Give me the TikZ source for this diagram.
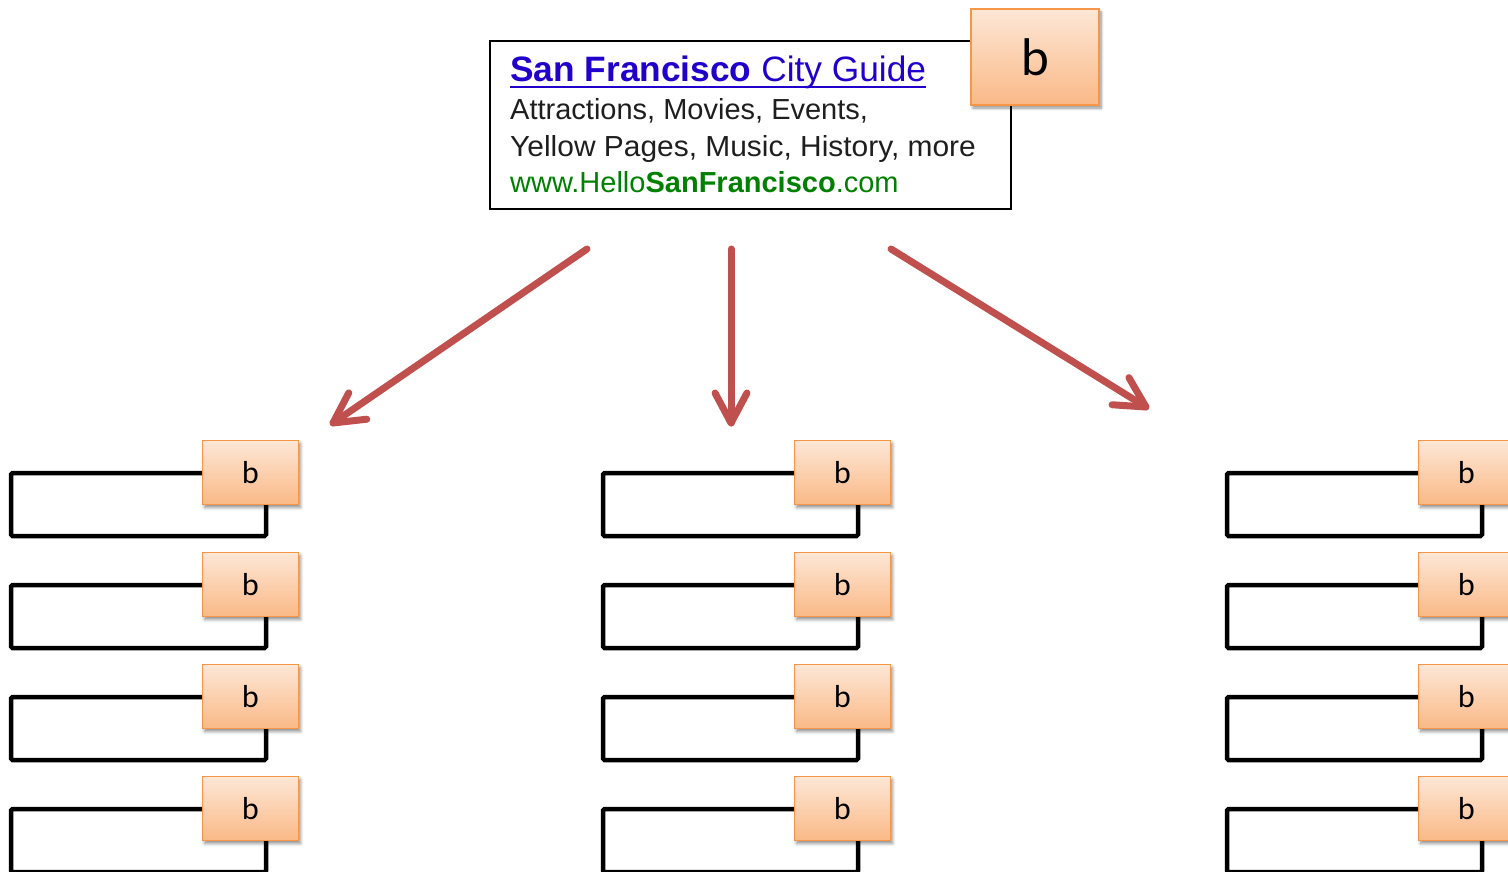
\documentclass[tikz,border=0pt]{standalone}
\usepackage{fontspec}
\setmainfont{Liberation Sans}
\newfontfamily\bfont{Lato}
\usetikzlibrary{calc,shadows.blur}
\definecolor{adblue}{RGB}{34,0,204}
\definecolor{adgreen}{RGB}{0,128,0}
\definecolor{adtext}{RGB}{30,30,30}
\definecolor{orbord}{RGB}{247,150,70}
\definecolor{ortop}{RGB}{253,231,214}
\definecolor{orbot}{RGB}{250,185,135}
\definecolor{arrred}{RGB}{192,80,77}
\tikzset{
  tagbox/.style={draw=orbord, line width=1.6pt, top color=ortop, bottom color=orbot,
    minimum width=96pt, minimum height=64pt, inner sep=0pt,
    font=\bfont\fontsize{30}{30}\selectfont,
    blur shadow={shadow xshift=2pt, shadow yshift=-3pt, shadow blur steps=6, shadow blur radius=3pt, shadow opacity=45}},
  bigtag/.style={tagbox, minimum width=128pt, minimum height=96pt, font=\bfont\fontsize{50}{50}\selectfont},
  slot/.style={draw=black, line width=4.5pt, rounded corners=1.5pt, minimum width=255pt, minimum height=63pt, inner sep=0pt},
  adline/.style={anchor=base west, inner sep=0pt, font=\fontsize{29}{29}\selectfont, text=adtext},
  flow/.style={draw=arrred, line width=7pt, line cap=round, line join=round}
}
\begin{document}
\begin{tikzpicture}[x=1pt, y=-1pt]
\useasboundingbox (0,0) rectangle (1508,872);
\clip (0,0) rectangle (1508,872);
% top ad
\node[draw=black, line width=2pt, minimum width=521pt, minimum height=168pt, inner sep=0pt] (ad) at (750.5,125) {};
\node[adline, font=\fontsize{35.3}{35}\selectfont, text=adblue] (l1) at (510,82) {\textbf{San Francisco} City Guide};
\draw[adblue, line width=1.8pt] ([yshift=-5pt]l1.base west) -- ([yshift=-5pt]l1.base east);
\node[adline] (l2) at (510,120) {Attractions, Movies, Events,};
\node[adline] (l3) at (510,157) {\scalebox{1.032}[1]{Yellow Pages, Music, History, more}};
\node[adline, text=adgreen] (l4) at (510,193) {www.Hello\textbf{SanFrancisco}.com};
\node[bigtag] (tb) at (1035,57) {b};
% arrows
\coordinate (a1s) at (587,249); \coordinate (a1e) at (333,423);
\coordinate (a2s) at (731,249); \coordinate (a2e) at (731,423);
\coordinate (a3s) at (891,249); \coordinate (a3e) at (1146,407);
\foreach \s/\e in {a1s/a1e,a2s/a2e,a3s/a3e}{
  \draw[flow] (\s) -- (\e);
  \draw[flow] ($(\e)!34pt!28:(\s)$) -- (\e) -- ($(\e)!34pt!-28:(\s)$);
}
% slots
\foreach \c/\dx in {1/0,2/592,3/1216}{
  \foreach \r/\dy in {1/0,2/112,3/224,4/336}{
    \node[slot] (s\c\r) at (138.5+\dx,504.5+\dy) {};
    \node[tagbox] (t\c\r) at (250.5+\dx,472.5+\dy) {b};
  }
}
\end{tikzpicture}
\end{document}
